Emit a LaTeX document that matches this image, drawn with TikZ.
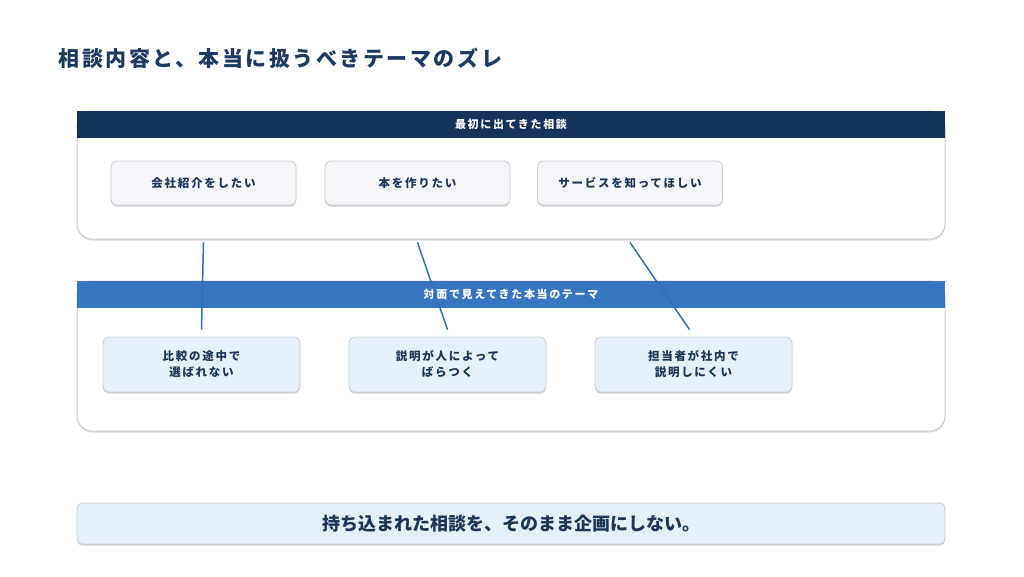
\documentclass[tikz,border=0pt]{standalone}
\usepackage{fontspec}
\setmainfont{Noto Sans CJK JP}
\newfontfamily\jpwide[LetterSpace=15]{Noto Sans CJK JP}
\newfontfamily\jptitle[LetterSpace=12]{Noto Sans CJK JP}
\usetikzlibrary{positioning,calc,shadows}
\definecolor{navy}{HTML}{14325A}
\definecolor{titleblue}{HTML}{1E3A62}
\definecolor{midblue}{HTML}{3676C0}
\definecolor{linkblue}{HTML}{3170B8}
\definecolor{cardgray}{HTML}{F4F6F9}
\definecolor{cardblue}{HTML}{E5EFF9}
\definecolor{edgegray}{HTML}{C9CDD3}
\definecolor{textnavy}{HTML}{1D3557}
\begin{document}
\begin{tikzpicture}
[x=1pt,y=-1pt,
panel/.style={draw=edgegray,fill=white,line width=1pt,rounded corners=15pt,minimum width=868pt,
  drop shadow={opacity=.25,shadow xshift=0pt,shadow yshift=-1.5pt}},
headband/.style={anchor=north,minimum width=868pt,minimum height=27pt,inner sep=0pt,text=white,
  font=\jpwide\bfseries\fontsize{11}{13}\selectfont},
card/.style={draw=edgegray,rounded corners=6pt,line width=.8pt,align=center,text=textnavy,
  font=\jpwide\bfseries\fontsize{11.5}{16}\selectfont,
  drop shadow={opacity=.35,shadow xshift=0pt,shadow yshift=-1.5pt}},
askcard/.style={card,fill=cardgray,minimum width=185pt,minimum height=44pt},
realcard/.style={card,fill=cardblue,minimum width=197pt,minimum height=55pt},
link/.style={draw=linkblue,line width=1.5pt}]
\useasboundingbox[fill=white] (0,0) rectangle (1024,576);
\node[anchor=west,text=titleblue,font=\jptitle\bfseries\fontsize{21}{25}\selectfont] (title) at (55,58) {相談内容と、本当に扱うべきテーマのズレ};
% first panel
\node[panel,minimum height=128pt] (first) at (511,175) {};
\node[headband,fill=navy] (firsthead) at (first.north) {最初に出てきた相談};
\node[askcard] (ask1) at (203.5,183) {会社紹介をしたい};
\node[askcard] (ask2) at (417.5,183) {本を作りたい};
\node[askcard] (ask3) at (630,183) {サービスを知ってほしい};
% second panel
\node[panel,minimum height=150pt] (real) at (511,356) {};
\node[headband,fill=midblue] (realhead) at (real.north) {対面で見えてきた本当のテーマ};
\node[realcard] (real1) at (201.5,364.5) {比較の途中で\\選ばれない};
\node[realcard] (real2) at (447.5,364.5) {説明が人によって\\ばらつく};
\node[realcard] (real3) at (693.5,364.5) {担当者が社内で\\説明しにくい};
% links
\foreach \i/\dx in {1/0,2/0,3/-4}{
  \coordinate (from\i) at ($(ask\i.south)+(0,37)$);
  \coordinate (to\i) at ($(real\i.north)+(\dx,-7)$);
  \draw[link] (from\i) -- (to\i);
}
% message
\node[draw=edgegray,fill=cardblue,rounded corners=5pt,line width=.8pt,minimum width=868pt,minimum height=41pt,
  text=textnavy,font=\bfseries\fontsize{18}{22}\selectfont,
  drop shadow={opacity=.35,shadow xshift=0pt,shadow yshift=-1.5pt}] (message) at (511,523.5) {持ち込まれた相談を、そのまま企画にしない。};
\end{tikzpicture}
\end{document}
